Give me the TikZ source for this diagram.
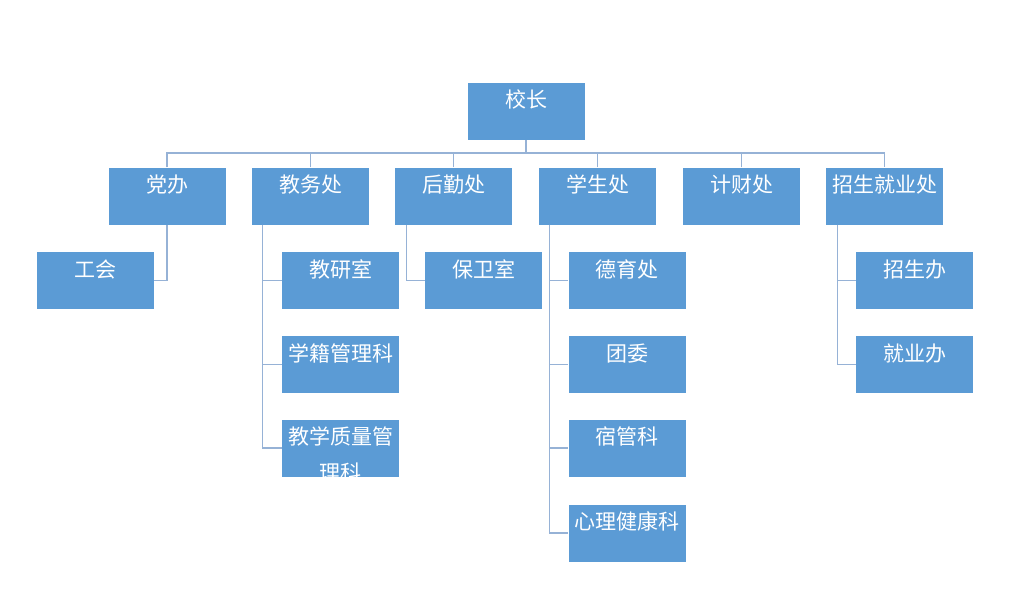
\documentclass[tikz,border=0pt]{standalone}
\usepackage{fontspec}
\newfontfamily\cjk{Noto Sans CJK SC}
\usepackage{tikz}
\definecolor{boxblue}{RGB}{91,155,213}
\definecolor{linkgray}{RGB}{150,178,214}

\begin{document}
\begin{tikzpicture}[x=1pt, y=-1pt,
  unit/.style={rectangle, fill=boxblue, minimum width=117pt, minimum height=57pt,
    inner sep=0pt, text=white, font=\cjk\fontsize{21}{33}\selectfont,
    text height=25pt, text depth=32pt},
  link/.style={draw=linkgray, line width=1.2pt}]
\useasboundingbox (0,0) rectangle (1024,615);
%%% Draws the head and the first level
% draws boxes
\node[unit] (head) at (526,111.5) {校长};
\node[unit] (dangban) at (167,196) {党办};
\node[unit] (jiaowu) at (310.5,196) {教务处};
\node[unit] (houqin) at (453.5,196) {后勤处};
\node[unit] (xuesheng) at (597.5,196) {学生处};
\node[unit] (jicai) at (741.5,196) {计财处};
\node[unit] (zhaosheng) at (884.5,196) {招生就业处};
% draws the bus
\coordinate (bus) at (526,153);
\draw[link] (head.south) -- (bus);
\draw[link] (dangban.north) |- (bus) -| (zhaosheng.north);
\foreach \d in {jiaowu,houqin,xuesheng,jicai}
  \draw[link] (\d.north) -- (\d.north |- bus);
%%% Draws the second level
% draws boxes
\node[unit] (gonghui) at (95.5,280.5) {工会};
\node[unit] (jiaoyan) at (340.5,280.5) {教研室};
\node[unit] (xueji) at (340.5,364.5) {学籍管理科};
\node[unit] (zhiliang) at (340.5,448) {};
\begin{scope}
\clip (zhiliang.south west) rectangle (zhiliang.north east);
\node[text=white, inner sep=0pt, anchor=north, align=center, text height=61pt,
  font=\cjk\fontsize{21}{36}\selectfont] (zhiliangtext) at (zhiliang.north) {教学质量管\\理科};
\end{scope}
\node[unit] (baowei) at (483.5,280.5) {保卫室};
\node[unit] (deyu) at (627,280.5) {德育处};
\node[unit] (tuanwei) at (627,364.5) {团委};
\node[unit] (suguan) at (627,448) {宿管科};
\node[unit] (xinli) at (627,533) {心理健康科};
\node[unit] (zhaoban) at (914.5,280.5) {招生办};
\node[unit] (jiuye) at (914.5,364.5) {就业办};
% draws connectors
\draw[link] (dangban.south) |- (gonghui.east);
\foreach \c in {jiaoyan,xueji,zhiliang}
  \draw[link] ([xshift=11pt]jiaowu.south west) |- (\c.west);
\draw[link] ([xshift=12pt]houqin.south west) |- (baowei.west);
\foreach \c in {deyu,tuanwei,suguan,xinli}
  \draw[link] ([xshift=11pt]xuesheng.south west) |- (\c.west);
\foreach \c in {zhaoban,jiuye}
  \draw[link] ([xshift=12pt]zhaosheng.south west) |- (\c.west);
\end{tikzpicture}
\end{document}
